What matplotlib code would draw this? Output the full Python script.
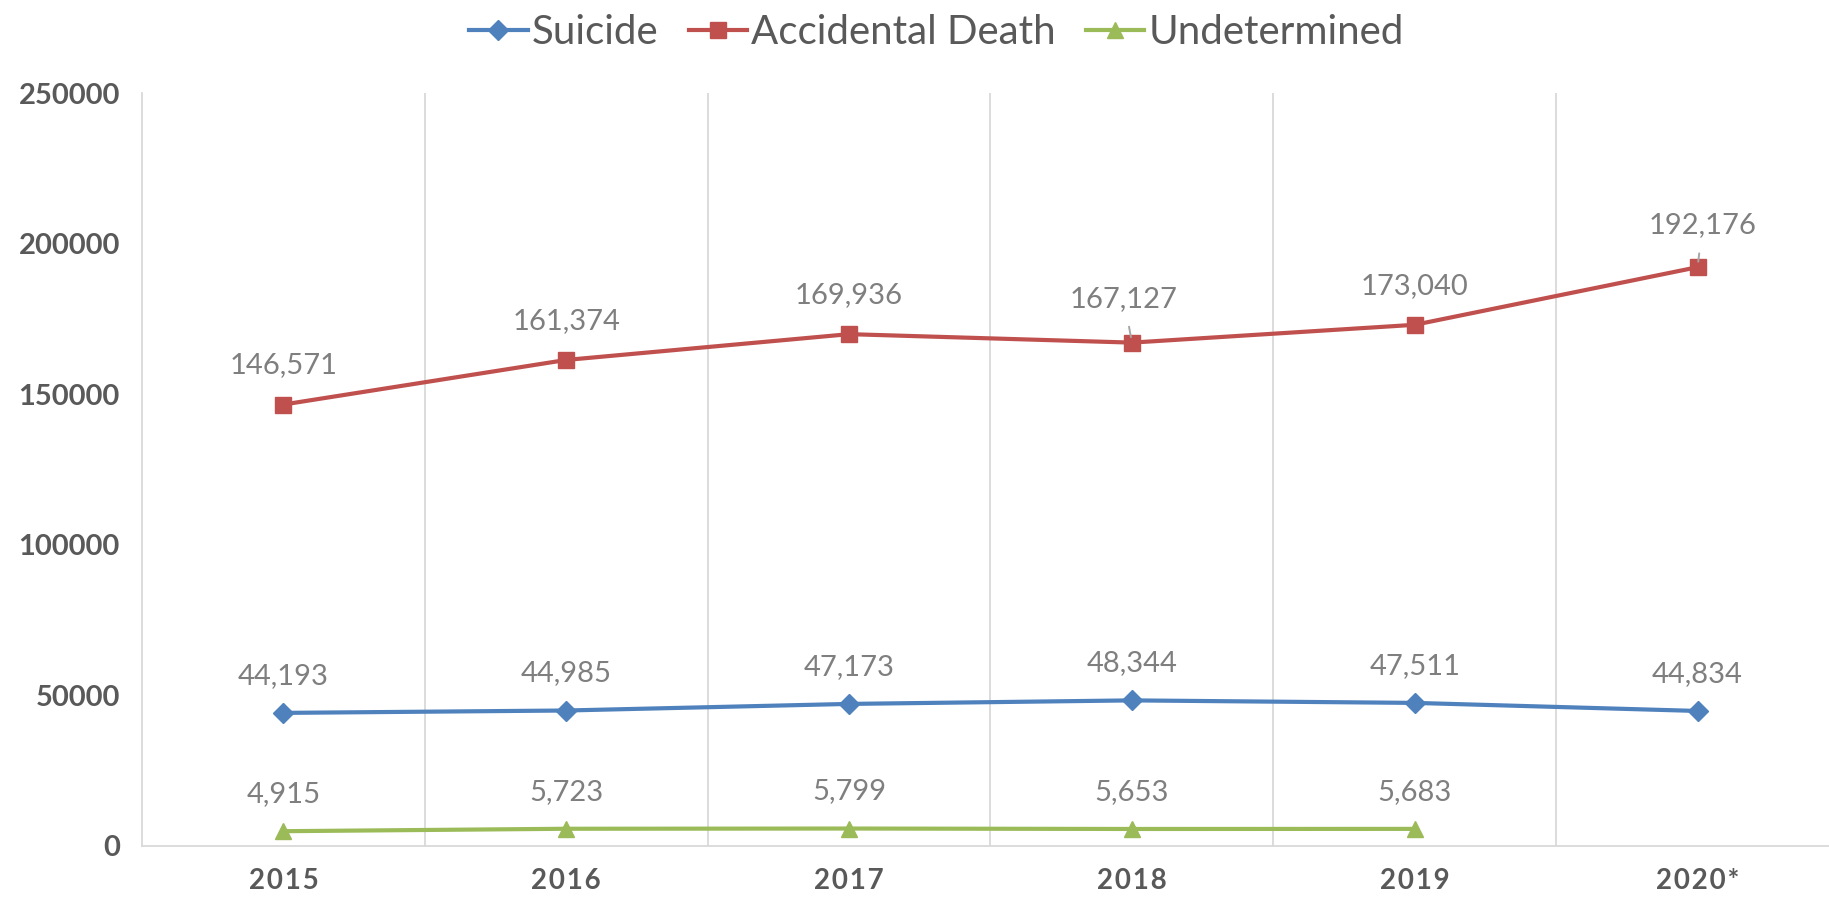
import matplotlib
matplotlib.use("Agg")
import matplotlib.pyplot as plt
import numpy as np

years = ["2015", "2016", "2017", "2018", "2019", "2020*"]
suicide = [44193, 44985, 47173, 48344, 47511, 44834]
accidental = [146571, 161374, 169936, 167127, 173040, 192176]
undetermined = [4915, 5723, 5799, 5653, 5683]

yticks = [0, 50000, 100000, 150000, 200000, 250000]

FONT = ["Lato", "DejaVu Sans"]
plt.rcParams['font.family'] = FONT

blue = "#4F81BD"
red = "#C0504D"
green = "#9BBB59"
label_gray = "#7F7F7F"
tick_gray = "#595959"
grid_gray = "#D9D9D9"

fig = plt.figure(figsize=(18.29, 8.98), dpi=100)
ax = fig.add_axes([142/1829, 52/898, 1697/1829, 753/898])

x = np.arange(len(years))

ax.plot(x, suicide, color=blue, lw=3, marker="D", ms=10, label="Suicide", zorder=3)
ax.plot(x, accidental, color=red, lw=3, marker="s", ms=11, label="Accidental Death", zorder=3)
ax.plot(x[:len(undetermined)], undetermined, color=green, lw=3, marker="^", ms=12,
        label="Undetermined", zorder=3)

ax.set_xlim(-0.5, len(years) - 0.5)
ax.set_ylim(0, 250000)
ax.set_yticks(yticks)
ax.set_yticklabels([str(v) for v in yticks], fontsize=21, fontweight="bold", color=tick_gray)
ax.set_xticks(x)
spaced = ["\u200a".join(list(y)) for y in years]
ax.set_xticklabels(spaced, fontsize=20, fontweight="bold", color=tick_gray)
ax.tick_params(axis="both", length=0)
ax.tick_params(axis="y", pad=16)
ax.tick_params(axis="x", pad=16)

# vertical gridlines between categories
for b in np.arange(0.5, len(years) - 0.5, 1.0):
    ax.axvline(b, color=grid_gray, lw=1.3, zorder=0)

for s in ["top", "right"]:
    ax.spines[s].set_visible(False)
ax.spines["left"].set_color(grid_gray)
ax.spines["left"].set_linewidth(1.3)
ax.spines["bottom"].set_color(grid_gray)
ax.spines["bottom"].set_linewidth(1.3)


def fmt(v):
    return f"{v:,}"

def lab(xi, v, dx=0, dy=38, leader=False):
    kw = {}
    if leader:
        kw["arrowprops"] = dict(arrowstyle="-", color="#A6A6A6", lw=1.4,
                                shrinkA=9, shrinkB=4)
    ax.annotate(fmt(v), xy=(xi, v), xytext=(dx, dy), textcoords="offset pixels",
                ha="center", va="center", fontsize=21, color=label_gray, zorder=4, **kw)

for i, v in enumerate(suicide):
    lab(i, v, dy=37)
for i, v in enumerate(undetermined):
    lab(i, v, dy=37)
for i, v in enumerate(accidental):
    if i == 3:
        lab(i, v, dx=-8, dy=44, leader=True)
    elif i == 5:
        lab(i, v, dx=5, dy=42, leader=True)
    else:
        lab(i, v, dy=39)

leg = fig.legend(loc="upper center", bbox_to_anchor=(0.512, 1.025), ncol=3, frameon=False,
                 fontsize=29, handlelength=1.45, handletextpad=0.1, columnspacing=0.75,
                 labelcolor=tick_gray)

fig.savefig("out.png", dpi=100)
